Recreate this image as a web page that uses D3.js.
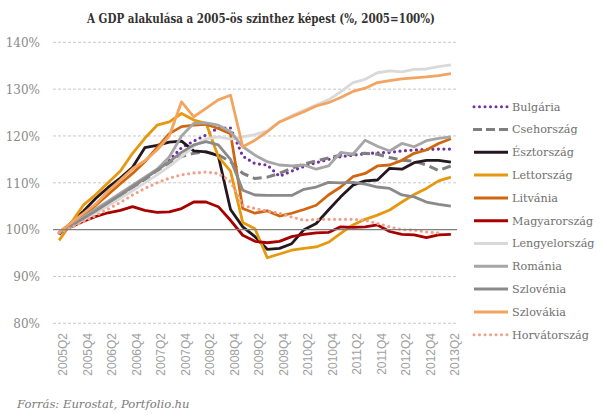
<!DOCTYPE html>
<html><head><meta charset="utf-8">
<script src="https://cdn.jsdelivr.net/npm/d3@7"></script>
<style>body{margin:0;background:#fff}svg{display:block}</style>
</head><body>
<svg id="chart" width="607" height="418"></svg>
<script>
const categories = ["2005Q2","2005Q3","2005Q4","2006Q1","2006Q2","2006Q3","2006Q4","2007Q1","2007Q2","2007Q3","2007Q4","2008Q1","2008Q2","2008Q3","2008Q4","2009Q1","2009Q2","2009Q3","2009Q4","2010Q1","2010Q2","2010Q3","2010Q4","2011Q1","2011Q2","2011Q3","2011Q4","2012Q1","2012Q2","2012Q3","2012Q4","2013Q1","2013Q2"];
const yTicks = [80,90,100,110,120,130,140];

const bulgaria = [99.3,100.8,102.4,104,105.7,107.4,109.1,110.9,112.8,114.8,117.5,118.9,120.2,121.7,121.7,115.7,114.1,113.8,111.4,112.5,113.5,114.3,115,115.6,115.9,116.2,116.4,116.5,116.8,117,117.1,117.2,117.2];
const cseh = [99.3,100.8,102.4,104,105.6,107.3,109,110.7,112.6,114.3,115.6,116.3,116.6,116,114.5,112,110.9,111.2,112,113.1,114,114.7,115.3,115.9,116.1,116.3,116.1,115.4,114.8,114.6,113.8,112.6,113.6];
const esztorszag = [99,101.5,104,106.7,109,111,113.3,117.5,118,118.7,118.9,116.8,116.6,115.8,104.3,100.6,98.5,95.8,96,97,100,101.3,104.2,107,109.5,110.4,110.6,113.1,112.9,114.3,114.8,114.8,114.4];
const lettorszag = [97.7,101.5,105.3,107.5,110,112.5,116.3,119.5,122.3,123,124.8,123.4,122.7,115.6,112.5,101.5,100.2,94,94.8,95.6,96,96.3,97.3,99.2,101,102.2,103.1,104.2,105.9,107.5,108.8,110.4,111.2];
const litvania = [99.3,101,103,105.2,107.5,109.8,112,114.5,117.5,120.5,122,122.3,122.5,121.6,120.5,104.5,103.5,104,102.9,103.5,104.3,105.2,107.4,109.1,111.3,112,113.6,113.8,114.8,116.3,117,118.4,119.4];
const magyarorszag = [99.3,100.6,101.8,102.8,103.6,104.1,104.9,104.1,103.7,103.8,104.5,105.9,105.9,104.9,102,98.8,97.5,97.2,97.5,98.5,99,99.3,99.4,100.6,100.5,100.6,101,99.6,99,98.9,98.3,98.9,99];
const lengyelorszag = [99.3,100.7,102.1,103.6,105.1,106.7,108.3,110,111.7,113.5,115.6,117.8,119.4,119.8,119.3,119.8,120.3,121.1,123,124.3,125.5,126.6,127.7,129.4,131.4,132.1,133.5,133.9,133.7,134.2,134.3,134.8,135.2];
const romania = [99.3,101,102.7,104.4,106.1,107.8,109.5,111.2,112.9,115.5,120,122.7,122.8,122.3,120.9,117.7,115.9,114.5,113.8,113.6,113.8,112.9,113.6,116.5,116.1,119.1,117.8,116.8,118.4,117.7,119,119.5,119.8];
const szlovenia = [99.3,100.8,102.4,104,105.7,107.4,109.2,110.9,112.7,114.5,116.5,118.1,118.8,118.1,115,108.4,107.4,107.3,107.3,107.3,108.6,109.1,110.1,110,110.1,109.7,109.1,108.8,107.4,107,105.9,105.4,105];
const szlovakia = [99.5,101.5,103.5,105.5,108.2,110.6,113,114.7,117,120,127.3,124.1,125.9,127.7,128.7,117.7,119.1,120.9,123,124.1,125.2,126.4,127.1,128.2,129.5,130.2,131.4,131.8,132.2,132.4,132.6,132.9,133.3];
const horvatorszag = [99.3,100.5,101.7,103,104.4,105.8,107.4,108.8,110,111,111.7,112.1,112.3,112,110.3,105.2,104.5,104,103.5,102.7,102,102.2,102.2,102.2,102.2,102,101.3,100.6,100,99.9,99.5,99.3,null];

const seriesNames = ["Bulgária","Csehország","Észtország","Lettország","Litvánia","Magyarország","Lengyelország","Románia","Szlovénia","Szlovákia","Horvátország"];
const seriesValues = [bulgaria,cseh,esztorszag,lettorszag,litvania,magyarorszag,lengyelorszag,romania,szlovenia,szlovakia,horvatorszag];
const seriesColors = ["#7030A0","#7f7f7f","#241720","#E6990F","#D0660F","#A80000","#D9D9D9","#A6A6A6","#8a8a8a","#F4A460","#F0A088"];
const seriesDash = ["dot","dash","","","","","","","","","dot"];

const svg = d3.select("#chart");
const x = d3.scalePoint().domain(categories).range([53,457]).padding(0.5);
const y = d3.scaleLinear().domain([80,140]).range([323.3,42.3]);

// title
svg.append("text").attr("x",261).attr("y",23).attr("text-anchor","middle")
  .attr("font-family","'DejaVu Serif', Georgia, serif").attr("font-weight","bold")
  .attr("font-size",13).attr("fill","#333")
  .attr("textLength",348).attr("lengthAdjust","spacingAndGlyphs")
  .text("A GDP alakulása a 2005-ös szinthez képest (%, 2005=100%)");

// gridlines
svg.append("g").selectAll("line").data(yTicks.filter(d=>d!==100)).join("line")
  .attr("x1",53).attr("x2",457).attr("y1",d=>y(d)).attr("y2",d=>y(d))
  .attr("stroke","#c8c8c8").attr("stroke-width",1).attr("stroke-dasharray","3,2");

// y axis labels
const yAxis = d3.axisLeft(y).tickValues(yTicks).tickFormat(d=>d+"%").tickSize(0).tickPadding(0);
const ya = svg.append("g").attr("transform","translate(40,0)").call(yAxis);
ya.select(".domain").remove();
ya.selectAll("text").attr("font-family","'DejaVu Serif', Georgia, serif").attr("font-size",12).attr("fill","#8a8a8a").attr("dy","0.35em");

// x axis labels
const xAxis = d3.axisBottom(x).tickValues(categories.filter((d,i)=>i%2===0)).tickSize(0);
const xa = svg.append("g").attr("transform","translate(0,333)").call(xAxis);
xa.select(".domain").remove();
xa.selectAll("text").attr("font-family","'Liberation Sans', Arial, sans-serif").attr("font-size",12)
  .attr("fill","#a0a0a0").attr("text-anchor","end")
  .attr("transform","translate(3.5,0) rotate(-90)").attr("x",0).attr("y",0).attr("dy","0.35em");

// lines
const line = d3.line().defined(d=>d!=null).x((d,i)=>x(categories[i])).y(d=>y(d));
const lg = svg.append("g");
seriesValues.forEach((vals,k)=>{
  const p = lg.append("path").datum(vals).attr("d",line).attr("fill","none")
    .attr("stroke",seriesColors[k]).attr("stroke-width",2.8).attr("stroke-linejoin","round");
  if(seriesDash[k]==="dot") p.attr("stroke-dasharray","0,5.5").attr("stroke-linecap","round").attr("stroke-width",3.2);
  if(seriesDash[k]==="dash") p.attr("stroke-dasharray","9,5").attr("stroke-width",3);
});

// 100% baseline
svg.append("line").attr("x1",53).attr("x2",457).attr("y1",y(100)).attr("y2",y(100))
  .attr("stroke","#808080").attr("stroke-width",1.2);

// legend
const leg = svg.append("g");
seriesNames.forEach((n,k)=>{
  const ly = 106.7 + 22.8*k;
  const l = leg.append("line").attr("x1",474).attr("x2",508).attr("y1",ly).attr("y2",ly)
    .attr("stroke",seriesColors[k]).attr("stroke-width",3);
  if(seriesDash[k]==="dot") l.attr("stroke-dasharray","0,5.5").attr("stroke-linecap","round").attr("stroke-width",3);
  if(seriesDash[k]==="dash") l.attr("stroke-dasharray","9,4").attr("x1",473);
  leg.append("text").attr("x",512).attr("y",ly).attr("dy","0.35em")
    .attr("font-family","'DejaVu Serif', Georgia, serif").attr("font-size",11.2).attr("fill","#707070").text(n);
});

// source
svg.append("text").attr("x",17).attr("y",408)
  .attr("font-family","'DejaVu Serif', Georgia, serif").attr("font-style","italic")
  .attr("font-size",11.6).attr("fill","#7a7a7a").text("Forrás: Eurostat, Portfolio.hu");
</script>
</body></html>
